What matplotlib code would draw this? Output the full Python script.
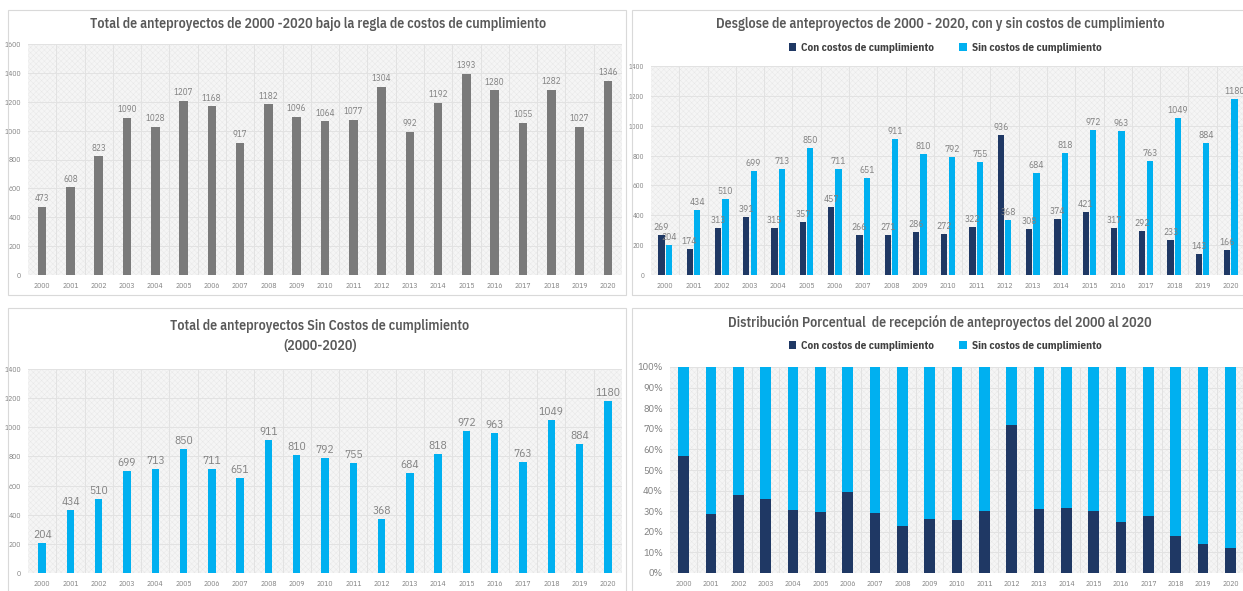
import matplotlib
matplotlib.use("Agg")
import matplotlib.pyplot as plt
from matplotlib.patches import Rectangle
import numpy as np

# Datos
years = [str(y) for y in range(2000, 2021)]
total = [473, 608, 823, 1090, 1028, 1207, 1168, 917, 1182, 1096, 1064,
         1077, 1304, 992, 1192, 1393, 1280, 1055, 1282, 1027, 1346]
con_costos = [269, 174, 313, 391, 315, 357, 457, 266, 271, 286, 272,
              322, 936, 308, 374, 421, 317, 292, 233, 143, 166]
sin_costos = [204, 434, 510, 699, 713, 850, 711, 651, 911, 810, 792,
              755, 368, 684, 818, 972, 963, 763, 1049, 884, 1180]

GRIS = '#7a7a7a'
AZUL_OSC = '#1f3864'
AZUL_CLARO = '#00b0f0'
TXT = '#595959'

plt.rcParams['font.family'] = ['IBM Plex Sans Condensed', 'DejaVu Sans']
plt.rcParams['hatch.color'] = '#e4e4e4'
plt.rcParams['hatch.linewidth'] = 0.3

W, H = 1243, 591
fig = plt.figure(figsize=(W/100, H/100), dpi=100)
fig.patch.set_facecolor('white')

def px_axes(l, t, r, b):
    return fig.add_axes([l/W, 1-b/H, (r-l)/W, (b-t)/H])

def panel_box(l, t, r, b):
    fig.patches.append(Rectangle((l/W, 1-b/H), (r-l)/W, (b-t)/H, transform=fig.transFigure,
                                 fill=False, edgecolor='#d9d9d9', linewidth=0.8))

def style(ax, ymax, step, yfs=5.5):
    n = len(years)
    ax.set_xlim(-0.5, n-0.5)
    ax.set_ylim(0, ymax)
    ax.set_facecolor('#f5f5f5')
    ax.patch.set_hatch('xxxxxx')
    ax.patch.set_edgecolor('#e6e6e6')
    for s in ax.spines.values():
        s.set_visible(False)
    ax.set_xticks(range(n))
    ax.set_xticklabels(years, fontsize=5.5, color='#606060')
    ax.set_yticks(np.arange(0, ymax+1, step))
    ax.tick_params(length=0, pad=5, labelcolor='#808080')
    ax.tick_params(axis='y', labelsize=yfs)
    for yv in np.arange(step, ymax+1, step):
        ax.axhline(yv, color='#e2e2e2', lw=0.7, zorder=1)
    for xb in np.arange(0.5, n-1, 1):
        ax.axvline(xb, color='#e2e2e2', lw=0.7, zorder=1)

def titulo(xc, yc, s):
    fig.text(xc/W, 1-yc/H, s, ha='center', va='center', fontsize=10,
             fontweight=600, color=TXT, linespacing=1.6)

def leyenda(ax, yc):
    lg = fig.legend(*ax.get_legend_handles_labels(), loc='center', bbox_to_anchor=(945/W, 1-yc/H),
                    ncol=2, frameon=False, handlelength=0.7, handleheight=0.7,
                    columnspacing=2.3, handletextpad=0.4, prop={'weight': 'bold', 'size': 8})
    for t in lg.get_texts():
        t.set_color('#404040')

x = np.arange(len(years))

# Panel 1
panel_box(8, 10, 626, 295)
ax1 = px_axes(28, 44, 622, 275)
style(ax1, 1600, 200)
ax1.bar(x, total, width=0.3, color=GRIS, zorder=3)
for xi, v in zip(x, total):
    ax1.text(xi, v + 25, str(v), ha='center', va='bottom', fontsize=6.5, color='#808080')
titulo(318, 24, 'Total de anteproyectos de 2000 -2020 bajo la regla de costos de cumplimiento')

# Panel 2
panel_box(632, 10, 1250, 295)
ax2 = px_axes(651, 66, 1245, 275)
style(ax2, 1400, 200, yfs=5)
ax2.bar(x - 0.13, con_costos, width=0.22, color=AZUL_OSC, zorder=3, label='Con costos de cumplimiento')
ax2.bar(x + 0.13, sin_costos, width=0.22, color=AZUL_CLARO, zorder=3, label='Sin costos de cumplimiento')
for xi, a, b in zip(x, con_costos, sin_costos):
    ax2.text(xi - 0.13, a + 20, str(a), ha='center', va='bottom', fontsize=6.8, color='#808080')
    ax2.text(xi + 0.13, b + 20, str(b), ha='center', va='bottom', fontsize=6.8, color='#808080')
titulo(940, 24, 'Desglose de anteproyectos de 2000 - 2020, con y sin costos de cumplimiento')
leyenda(ax2, 48)

# Panel 3
panel_box(8, 308, 626, 600)
ax3 = px_axes(28, 369, 622, 573)
style(ax3, 1400, 200)
ax3.bar(x, sin_costos, width=0.26, color=AZUL_CLARO, zorder=3)
for xi, v in zip(x, sin_costos):
    ax3.text(xi, v + 20, str(v), ha='center', va='bottom', fontsize=8.3, color='#808080')
titulo(320, 336, 'Total de anteproyectos Sin Costos de cumplimiento\n(2000-2020)')

# Panel 4
con = np.array(con_costos)
sin = np.array(sin_costos)
pct_con = con / (con + sin) * 100
pct_sin = sin / (con + sin) * 100
panel_box(632, 308, 1250, 600)
ax4 = px_axes(670, 367, 1244, 573)
style(ax4, 100, 10, yfs=7.5)
ax4.set_yticklabels([f'{v}%' for v in range(0, 101, 10)])
ax4.bar(x, pct_con, width=0.4, color=AZUL_OSC, zorder=3, label='Con costos de cumplimiento')
ax4.bar(x, pct_sin, width=0.4, bottom=pct_con, color=AZUL_CLARO, zorder=3, label='Sin costos de cumplimiento')
titulo(940, 322, 'Distribución Porcentual  de recepción de anteproyectos del 2000 al 2020')
leyenda(ax4, 346)

fig.savefig('out.png', dpi=100)
